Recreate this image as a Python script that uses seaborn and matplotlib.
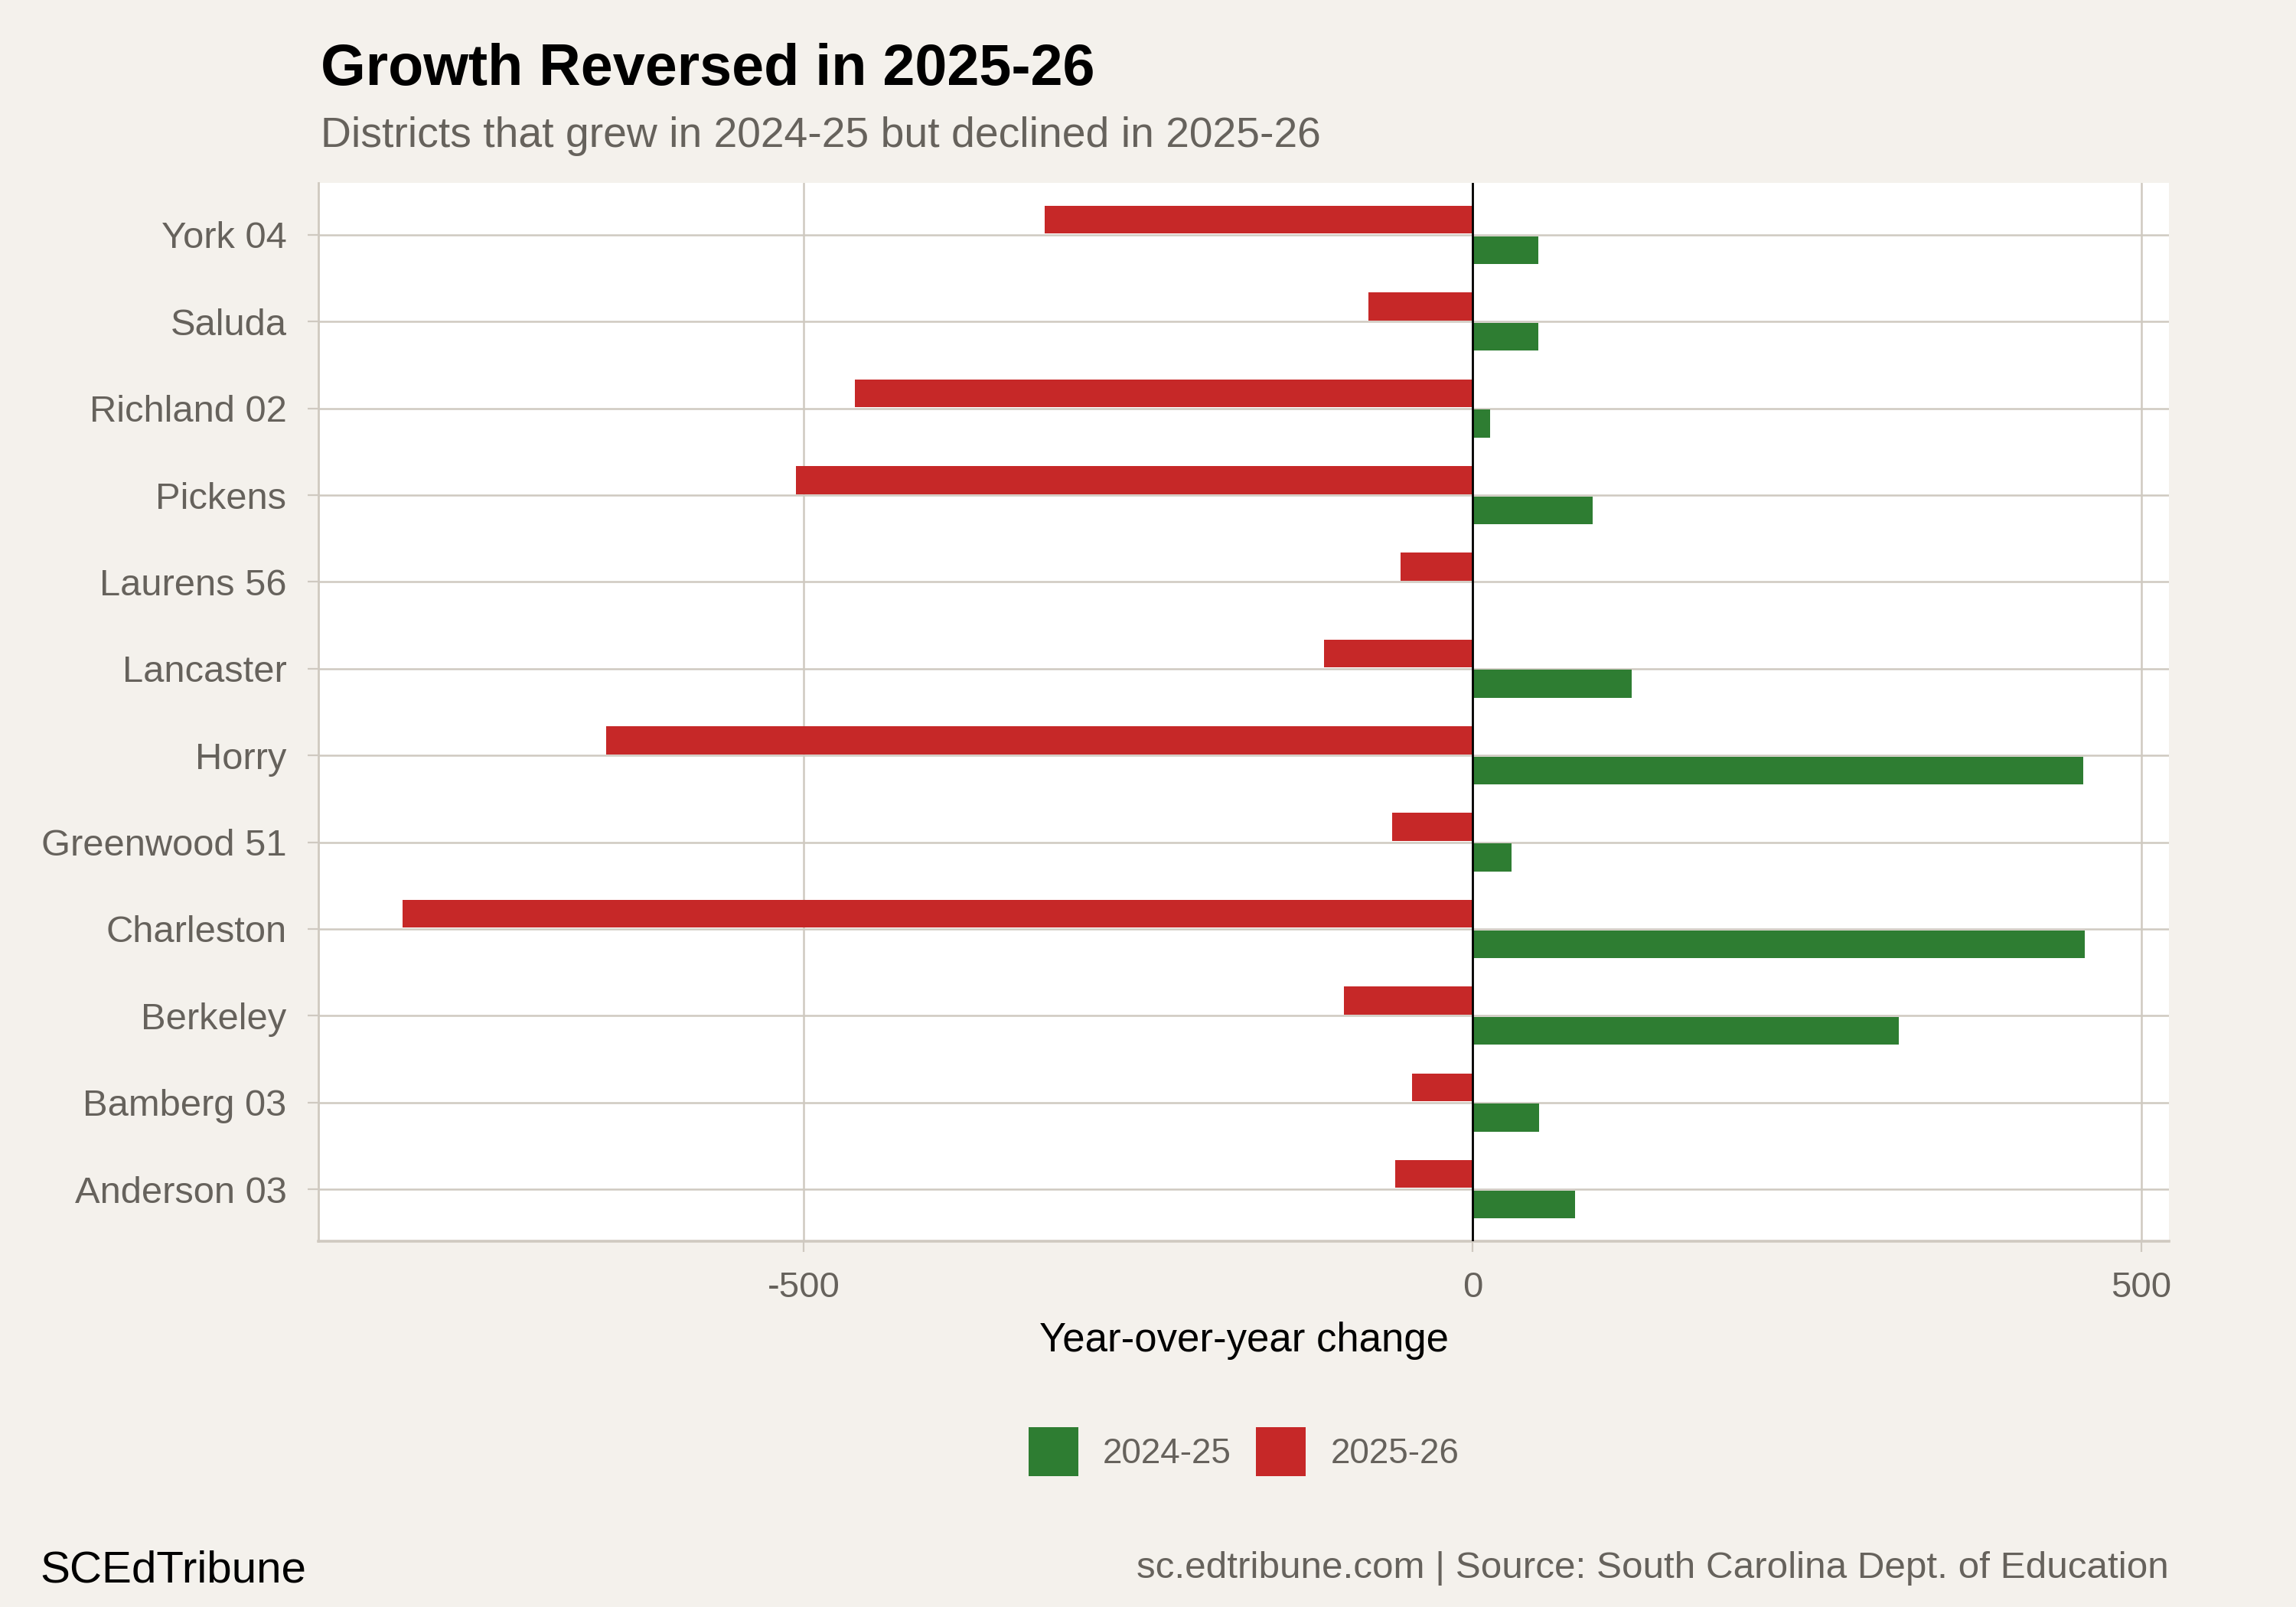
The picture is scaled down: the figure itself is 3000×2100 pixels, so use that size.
import matplotlib
matplotlib.use("Agg")
import matplotlib.pyplot as plt
import seaborn as sns
import pandas as pd
from matplotlib.patches import Patch

districts = ["York 04", "Saluda", "Richland 02", "Pickens", "Laurens 56", "Lancaster",
             "Horry", "Greenwood 51", "Charleston", "Berkeley", "Bamberg 03", "Anderson 03"]
change_2024_25 = [49, 49, 13, 90, 0, 119, 457, 29, 458, 319, 50, 77]
change_2025_26 = [-320, -78, -462, -506, -54, -111, -648, -60, -800, -96, -45, -58]
periods = ["2024-25", "2025-26"]
colors = {"2024-25": "#2E7D32", "2025-26": "#C62828"}

title = "Growth Reversed in 2025-26"
subtitle = "Districts that grew in 2024-25 but declined in 2025-26"
xlabel = "Year-over-year change"
brand = "SCEdTribune"
source = "sc.edtribune.com | Source: South Carolina Dept. of Education"

df = pd.DataFrame({
    "district": districts * 2,
    "change": change_2024_25 + change_2025_26,
    "period": [periods[0]] * len(districts) + [periods[1]] * len(districts),
})

BG = "#F4F1EC"
GRID = "#CFC9C0"
GREY = "#66625C"

sns.set_theme(style="white")
plt.rcParams["font.family"] = ["Liberation Sans", "DejaVu Sans"]

fig = plt.figure(figsize=(15, 10.5), dpi=200, facecolor=BG)
ax = fig.add_axes([0.1387, 0.2276, 0.806, 0.6586])
ax.set_facecolor("white")

sns.barplot(data=df, y="district", x="change", hue="period",
            hue_order=["2025-26", "2024-25"], order=districts,
            palette=colors, orient="h", width=0.7, gap=0.08,
            legend=False, ax=ax, zorder=3, saturation=1, linewidth=0)

vmin = min(change_2025_26 + change_2024_25)
vmax = max(change_2025_26 + change_2024_25)
pad = (vmax - vmin) * 0.05
ax.set_xlim(vmin - pad, vmax + pad)
ax.set_ylim(len(districts) - 0.4, -0.6)

ax.set_xticks([-500, 0, 500])
ax.set_xticklabels(["-500", "0", "500"])
ax.grid(True, axis="both", color=GRID, linewidth=0.9, zorder=0)
ax.set_axisbelow(True)
ax.axvline(0, color="black", linewidth=1.0, zorder=4)

for s in ["top", "right"]:
    ax.spines[s].set_visible(False)
ax.spines["left"].set_color(GRID)
ax.spines["left"].set_linewidth(1.0)
ax.spines["bottom"].set_color(GRID)
ax.spines["bottom"].set_linewidth(1.3)

ax.tick_params(axis="x", length=5, width=0.8, color=GRID, labelsize=17,
               labelcolor=GREY, pad=9, bottom=True)
ax.tick_params(axis="y", length=5, width=0.8, color=GRID, labelsize=17.6,
               labelcolor=GREY, pad=10, left=True)

ax.set_ylabel("")
ax.set_xlabel(xlabel, fontsize=19, color="black", labelpad=8)

fig.text(0.1395, 0.947, title, fontsize=27.2, fontweight="bold", color="black",
         ha="left", va="baseline")
fig.text(0.1395, 0.9085, subtitle, fontsize=19.9, color=GREY, ha="left", va="baseline")

handles = [Patch(facecolor=colors[p], edgecolor="none", label=p) for p in periods]
leg = fig.legend(handles=handles, loc="center", bbox_to_anchor=(0.5417, 0.0967),
                 ncol=2, frameon=False, fontsize=16.5, handlelength=1.42,
                 handleheight=1.75, handletextpad=0.7, columnspacing=0.7)
for t in leg.get_texts():
    t.set_color(GREY)

fig.text(0.0173, 0.0157, brand, fontsize=21, color="black", ha="left", va="baseline")
fig.text(0.9447, 0.0181, source, fontsize=17.8, color=GREY, ha="right", va="baseline")

fig.savefig("out.png", dpi=200, facecolor=BG)
